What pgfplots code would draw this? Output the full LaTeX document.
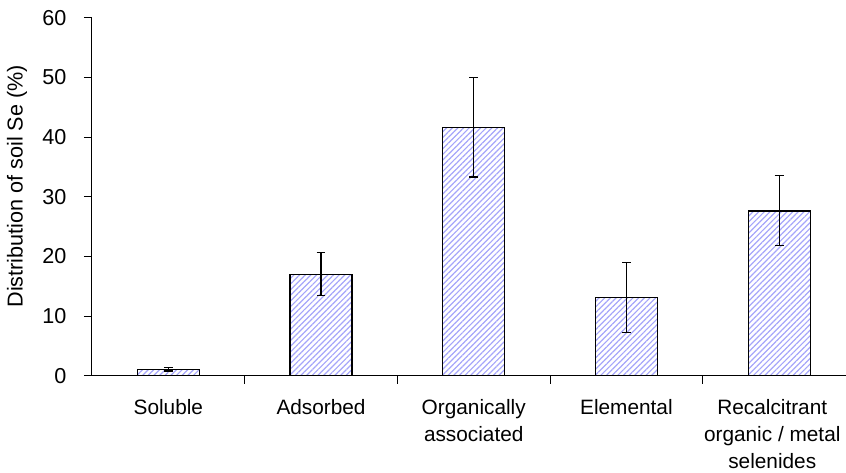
\documentclass[border=0pt]{standalone}
\usepackage{pgfplots}
\pgfplotsset{compat=1.18}
\usepackage{fontspec}
\setmainfont{Liberation Sans}
\usetikzlibrary{patterns.meta}
\definecolor{hatch}{RGB}{165,165,250}
\pgfplotstableread{
x y ep em
0 1.1 0.3 0.3
1 17.0 3.65 3.6
2 41.6 8.4 8.3
3 13.1 5.9 5.8
4 27.6 5.9 5.8
}\datatable
\begin{document}
\fontsize{10.8}{14}\selectfont
\begin{tikzpicture}
\begin{axis}[
  scale only axis, width=377pt, height=179pt,
  xmin=-0.5, xmax=4.438, ymin=0, ymax=60,
  axis x line=bottom, axis y line=left,
  axis line style={-, line width=0.5pt, black},
  ybar, bar width=0.406,
  tick align=outside, major tick length=4pt,
  ytick={0,10,...,60},
  ytick style={black, line width=0.5pt},
  xtick={0.5,1.5,2.5,3.5}, xticklabels={},
  xtick style={black, line width=0.5pt},
  extra x ticks={0,1,2,3,3.955},
  extra x tick labels={Soluble, Adsorbed, Organically\\associated, Elemental, Recalcitrant\\organic / metal\\selenides},
  extra x tick style={major tick length=0pt},
  xticklabel style={align=center, yshift=-8pt, font=\fontsize{10.4}{13.5}\selectfont},
  yticklabel style={xshift=-5pt, font=\fontsize{10.8}{14}\selectfont},
  /pgf/number format/assume math mode=true,
  ylabel={Distribution of soil Se (\%)},
  every axis y label/.style={at={(axis description cs:-0.0995,0.529)}, rotate=90, anchor=center, font=\fontsize{10.8}{14}\selectfont},
  clip=false,
]
\addplot[draw=black, line width=0.6pt,
  pattern={Lines[angle=45, distance=2pt, line width=0.6pt]}, pattern color=hatch,
  error bars/.cd, y dir=both, y explicit,
  error bar style={line width=0.6pt, black},
  error mark options={rotate=90, mark size=2.2pt, line width=0.6pt, black}]
  table[x=x, y=y, y error plus=ep, y error minus=em] {\datatable};
\coordinate (sw) at (rel axis cs:0,0);
\coordinate (ne) at (rel axis cs:1,1);
\end{axis}
\pgfresetboundingbox
\path ([xshift=-46pt,yshift=-48.5pt]sw) rectangle ([yshift=8.85pt]ne);
\end{tikzpicture}
\end{document}
